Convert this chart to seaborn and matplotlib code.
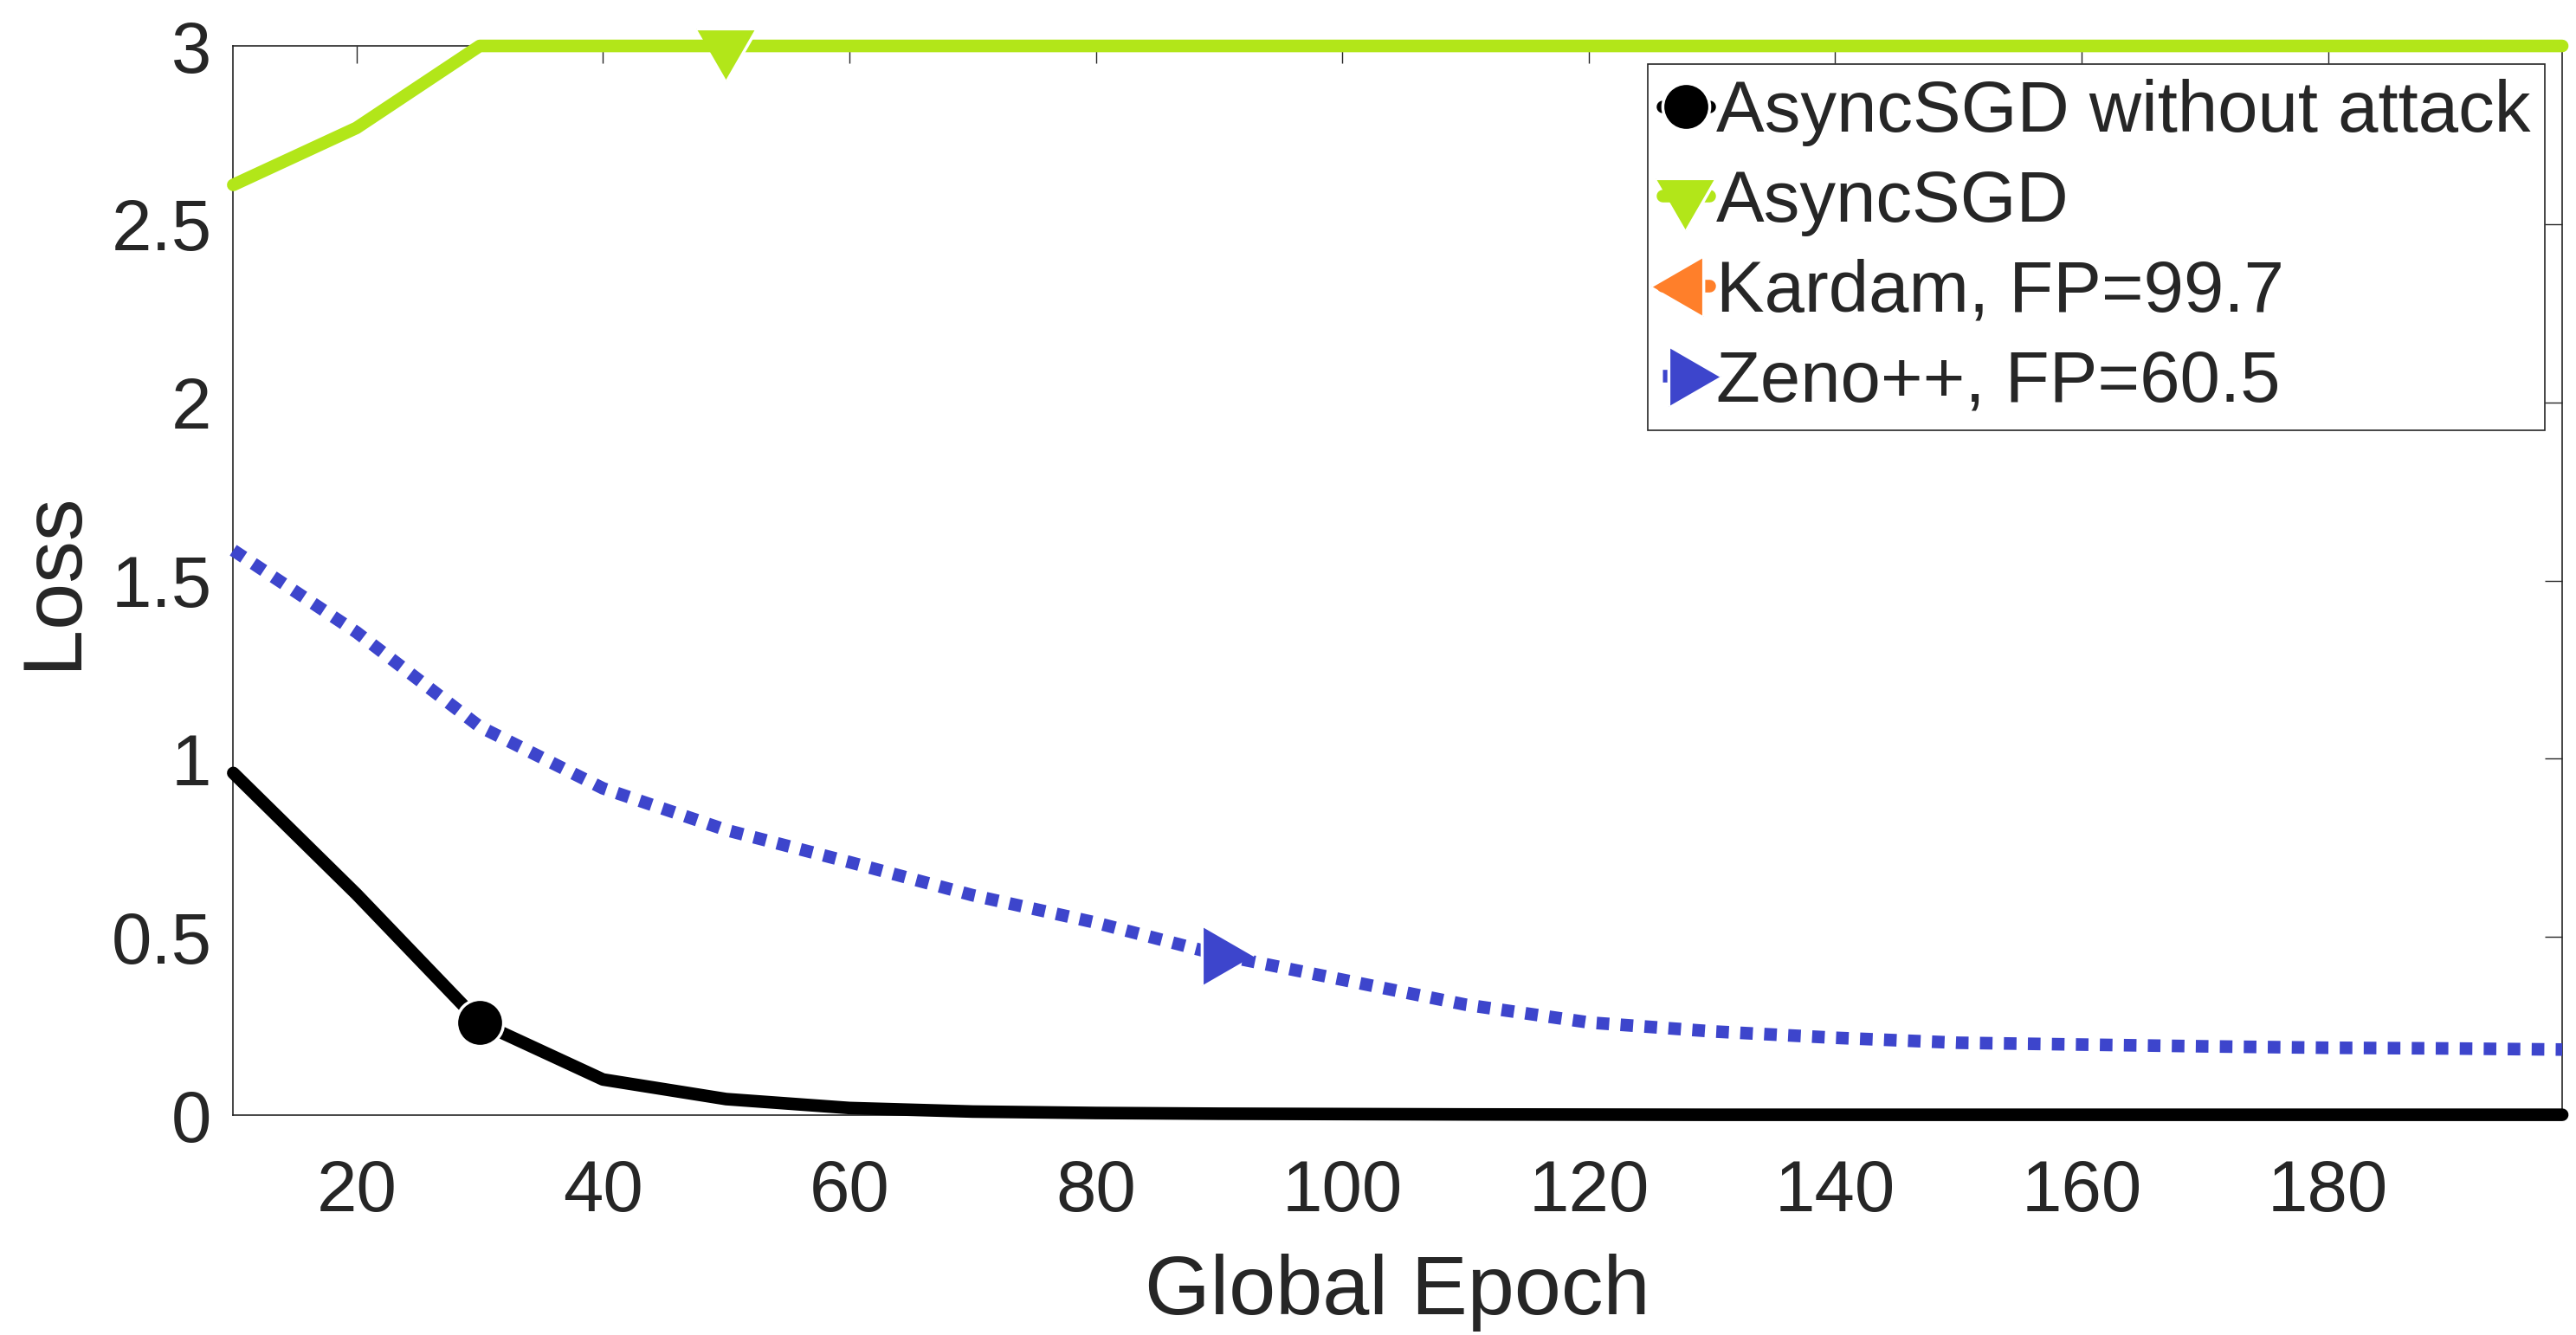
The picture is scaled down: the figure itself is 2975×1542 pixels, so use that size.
import numpy as np
import pandas as pd
import seaborn as sns
import matplotlib.pyplot as plt
from matplotlib.ticker import FuncFormatter

# values
epochs = [10, 20, 30, 40, 50, 60, 70, 80, 90, 100, 110, 120, 130, 140, 150, 160, 170, 180, 190, 199]
loss_no_attack = [0.96, 0.62, 0.26, 0.10, 0.045, 0.02, 0.01, 0.006, 0.004, 0.003,
                  0.002, 0.0015, 0.001, 0.001, 0.001, 0.001, 0.001, 0.001, 0.001, 0.001]
loss_asyncsgd = [2.61, 2.77, 3.0, 3.0, 3.0, 3.0, 3.0, 3.0, 3.0, 3.0,
                 3.0, 3.0, 3.0, 3.0, 3.0, 3.0, 3.0, 3.0, 3.0, 3.0]
loss_kardam = [np.nan] * len(epochs)  # diverged, nothing visible in the range
loss_zeno = [1.585, 1.355, 1.09, 0.917, 0.80, 0.71, 0.617, 0.54, 0.45, 0.38,
             0.31, 0.26, 0.235, 0.217, 0.203, 0.198, 0.193, 0.189, 0.187, 0.184]

labels = ["AsyncSGD without attack", "AsyncSGD", "Kardam, FP=99.7", "Zeno++, FP=60.5"]
x_ticks = [20, 40, 60, 80, 100, 120, 140, 160, 180]
y_ticks = [0, 0.5, 1, 1.5, 2, 2.5, 3]

sns.set_theme(style="white")
plt.rcParams['font.family'] = ['Liberation Sans', 'DejaVu Sans']

TXT = '#262626'
LW = 10.5

# triangles centred on their centroid, like MATLAB draws them
s3 = 0.57735
tri_down = [(-s3, 1 / 3), (s3, 1 / 3), (0, -2 / 3)]
tri_left = [(-2 / 3, 0), (1 / 3, s3), (1 / 3, -s3)]
tri_right = [(2 / 3, 0), (-1 / 3, s3), (-1 / 3, -s3)]

fig = plt.figure(figsize=(29.75, 15.42), dpi=100)
ax = fig.add_axes([0.09055, 0.1647, 0.9041, 0.8009])

series = [
    (loss_no_attack, '#000000', 'o', '-', 2, 39),
    (loss_asyncsgd, '#B2E619', tri_down, '-', 4, 58),
    (loss_kardam, '#FF7F2A', tri_left, '-', 6, 58),
    (loss_zeno, '#3D45CC', tri_right, ':', 8, 58),
]

for (vals, col, mk, ls, mev, ms), lab in zip(series, labels):
    df = pd.DataFrame({"epoch": epochs, "loss": vals})
    sns.lineplot(data=df, x="epoch", y="loss", ax=ax, color=col, label=lab,
                 linewidth=LW, linestyle=ls, marker=mk, markevery=[mev],
                 markersize=ms, markeredgecolor='white', markeredgewidth=2.5,
                 clip_on=False, zorder=3)

for line in ax.get_lines():
    if line.get_linestyle() == ':':
        line.set_dashes((1.0, 0.9))

ax.set_xlim(10, 199)
ax.set_ylim(0, 3)
ax.set_xticks(x_ticks)
ax.set_yticks(y_ticks)
ax.yaxis.set_major_formatter(FuncFormatter(lambda v, p: f"{v:g}"))

ax.tick_params(direction='in', length=14.5, width=1.0, color=TXT, labelsize=60,
               labelcolor=TXT, top=True, right=True)
ax.tick_params(axis='x', pad=36)
ax.tick_params(axis='y', pad=18)
for sp in ax.spines.values():
    sp.set_color(TXT)
    sp.set_linewidth(1.2)
    sp.set_zorder(2)

ax.set_xlabel("Global Epoch", fontsize=70, color=TXT, labelpad=23)
ax.set_ylabel("Loss", fontsize=70, color=TXT, labelpad=15)

leg = ax.legend(loc='upper right', bbox_to_anchor=(0.9926, 0.983), fontsize=60,
                frameon=True, fancybox=False, framealpha=1, edgecolor=TXT,
                handlelength=0.65, handletextpad=0.1, borderpad=0.2,
                labelspacing=0.31, borderaxespad=0)
leg.get_frame().set_linewidth(1.2)
for h in leg.legend_handles:
    h.set_markevery([1])

fig.savefig("out.png", dpi=100, facecolor='white')
